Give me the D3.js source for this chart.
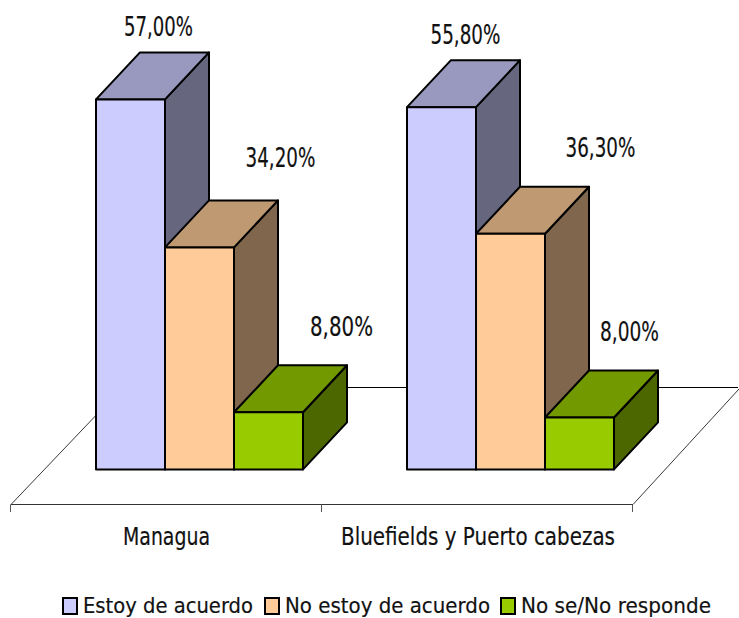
<!DOCTYPE html>
<html>
<head>
<meta charset="utf-8">
<script src="https://cdn.jsdelivr.net/npm/d3@7"></script>
<style>
html,body{margin:0;padding:0;background:#fff}
svg{display:block}
text{font-family:"DejaVu Sans",sans-serif;fill:#111;stroke:#111;stroke-width:0.2px}
</style>
</head>
<body>
<svg id="chart" width="739" height="618"></svg>
<script>
// Survey shares per region
const categories = ["Managua", "Bluefields y Puerto cabezas"];
const seriesNames = ["Estoy de acuerdo", "No estoy de acuerdo", "No se/No responde"];
const acuerdo = [57.0, 55.8];
const noAcuerdo = [34.2, 36.3];
const noSabe = [8.8, 8.0];
const seriesValues = [acuerdo, noAcuerdo, noSabe];

// Shading of each box: front, top, side
const frontColors = ["#CCCCFF", "#FFCC99", "#99CC00"];
const topColors = ["#9999BF", "#BF9972", "#729900"];
const sideColors = ["#66667F", "#7F664C", "#4C6600"];

const svg = d3.select("#chart");
const W = 739;
const depthX = 44, depthY = 47;
const baseY = 469.4;
const floorFront = 504.5;

const x0 = d3.scaleBand().domain(categories).range([11, 633]);
const x1 = d3.scaleBand().domain(seriesNames).range([85, 292]);
const y = d3.scaleLinear().domain([0, 57]).range([baseY, 99.4]);
const line = d3.line();

// Label placement around each box top: [dx, dy, text width]
const labelPlacement = [
  [[6, -16, 69], [59, -33, 70], [51, -29, 63]],
  [[2, -16, 70], [68, -30, 70], [28, -29, 59]]
];

// Floor of the 3D scene
const floor = svg.append("g");
floor.append("path")
  .attr("d", line([[11, floorFront], [633, floorFront]]))
  .attr("fill", "none").attr("stroke", "#333").attr("stroke-width", 1);
floor.append("path")
  .attr("d", line([[11, floorFront], [123, 387]]))
  .attr("fill", "none").attr("stroke", "#222").attr("stroke-width", 0.9);
floor.append("path")
  .attr("d", line([[633, floorFront], [W, 389]]))
  .attr("fill", "none").attr("stroke", "#222").attr("stroke-width", 0.9);
floor.append("path")
  .attr("d", line([[123, 387.5], [W - 1, 387.5]]))
  .attr("fill", "none").attr("stroke", "#000").attr("stroke-width", 1);
[10.5, 321.5, 632.5].forEach(tx => {
  floor.append("path")
    .attr("d", line([[tx, floorFront], [tx, 512]]))
    .attr("fill", "none").attr("stroke", "#555").attr("stroke-width", 1);
});

// Boxes, one group per region, drawn left to right so nearer faces overlap
categories.forEach((cat, ci) => {
  const g = svg.append("g");
  seriesNames.forEach((name, si) => {
    const v = seriesValues[si][ci];
    const xl = x0(cat) + x1(name);
    const xr = xl + x1.bandwidth();
    const yt = y(v);
    const face = (pts, fill) => g.append("path")
      .attr("d", line(pts) + "Z")
      .attr("fill", fill)
      .attr("stroke", "#000")
      .attr("stroke-width", 2)
      .attr("stroke-linejoin", "round");
    face([[xr, yt], [xr + depthX, yt - depthY], [xr + depthX, baseY - depthY], [xr, baseY]], sideColors[si]);
    face([[xl, yt], [xl + depthX, yt - depthY], [xr + depthX, yt - depthY], [xr, yt]], topColors[si]);
    face([[xl, yt], [xr, yt], [xr, baseY], [xl, baseY]], frontColors[si]);
  });
});

// Value labels
categories.forEach((cat, ci) => {
  seriesNames.forEach((name, si) => {
    const v = seriesValues[si][ci];
    const [dx, dy, w] = labelPlacement[ci][si];
    const cx = x0(cat) + x1(name) + x1.bandwidth() / 2 + depthX / 2 + dx;
    svg.append("text")
      .attr("x", cx)
      .attr("y", y(v) - depthY + dy)
      .attr("text-anchor", "middle")
      .attr("font-size", 26.5)
      .attr("textLength", w)
      .attr("lengthAdjust", "spacingAndGlyphs")
      .text(d3.format(".2f")(v).replace(".", ",") + "%");
  });
});

// Category labels under the floor
const catWidths = [87, 274];
categories.forEach((cat, ci) => {
  svg.append("text")
    .attr("x", x0(cat) + x0.bandwidth() / 2 + (ci ? 0.5 : 0))
    .attr("y", 545)
    .attr("text-anchor", "middle")
    .attr("font-size", 25)
    .attr("textLength", catWidths[ci])
    .attr("lengthAdjust", "spacingAndGlyphs")
    .text(cat);
});

// Legend
const legendX = [62, 264, 500];
const legendW = [170, 205, 190];
seriesNames.forEach((name, i) => {
  svg.append("rect")
    .attr("x", legendX[i] + 1).attr("y", 598)
    .attr("width", 14).attr("height", 16)
    .attr("fill", frontColors[i])
    .attr("stroke", "#000").attr("stroke-width", 2);
  svg.append("text")
    .attr("x", legendX[i] + 21)
    .attr("y", 613)
    .attr("font-size", 22)
    .attr("textLength", legendW[i])
    .attr("lengthAdjust", "spacingAndGlyphs")
    .text(name);
});
</script>
</body>
</html>
